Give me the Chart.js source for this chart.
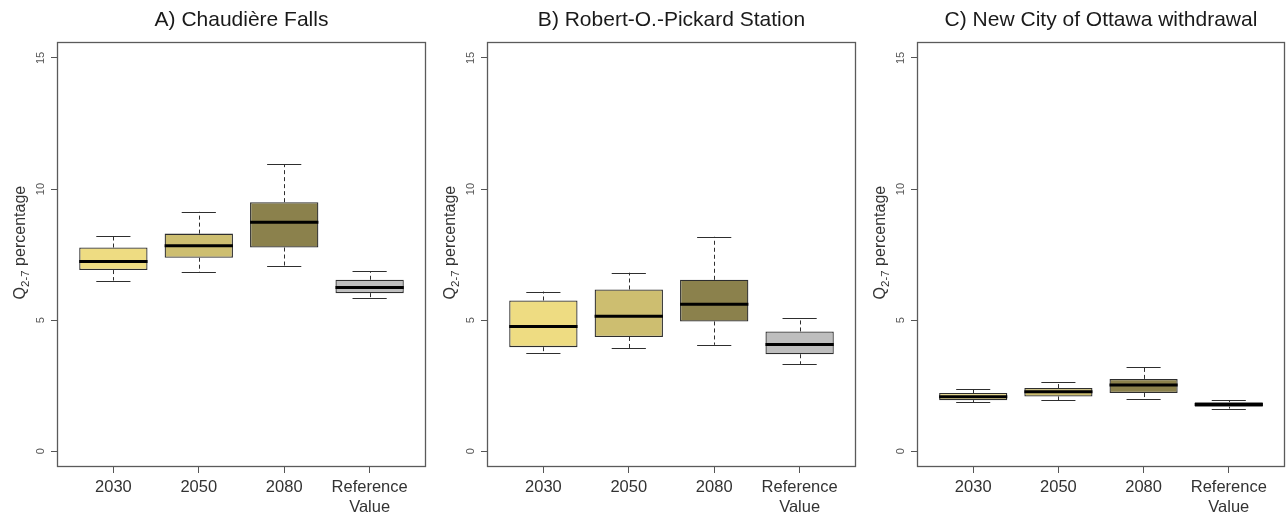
<!DOCTYPE html>
<html>
<head>
<meta charset="utf-8">
<script src="https://cdn.jsdelivr.net/npm/chart.js@4.4.1/dist/chart.umd.min.js"></script>
<style>
  body { margin: 0; background: #fff; }
  #wrap { position: relative; width: 1286px; height: 521px; }
  canvas { position: absolute; top: 0; }
</style>
</head>
<body>
<div id="wrap">
  <canvas id="panel-a" width="430" height="521" style="left:0"></canvas>
  <canvas id="panel-b" width="430" height="521" style="left:430px"></canvas>
  <canvas id="panel-c" width="426" height="521" style="left:860px"></canvas>
</div>
<script>
// box plot stats (Q2-7 percentage)
const xLabels = ['2030', '2050', '2080', ['Reference', 'Value']];
const yTicks = [0, 5, 10, 15];
const panelTitles = ['A) Chaudière Falls', 'B) Robert-O.-Pickard Station', 'C) New City of Ottawa withdrawal'];

const aMin = [6.51, 6.82, 7.06, 5.85];
const aQ1  = [6.91, 7.38, 7.77, 6.03];
const aMed = [7.24, 7.84, 8.73, 6.25];
const aQ3  = [7.77, 8.30, 9.50, 6.54];
const aMax = [8.21, 9.13, 10.95, 6.87];

const bMin = [3.74, 3.92, 4.06, 3.33];
const bQ1  = [3.97, 4.36, 4.95, 3.70];
const bMed = [4.76, 5.15, 5.61, 4.07];
const bQ3  = [5.75, 6.17, 6.54, 4.57];
const bMax = [6.09, 6.81, 8.18, 5.09];

const cMin = [1.86, 1.95, 2.01, 1.63];
const cQ1  = [1.95, 2.09, 2.22, 1.70];
const cMed = [2.08, 2.27, 2.53, 1.78];
const cQ3  = [2.22, 2.41, 2.76, 1.87];
const cMax = [2.37, 2.65, 3.22, 1.95];

const boxColors = ['#EEDC82', '#CDBE70', '#8B814C', '#BEBEBE'];
const FONT = '"Liberation Sans", Arial, sans-serif';

// whiskers, staples, medians, frame and the rotated y texts (R style)
const boxPlotExtras = {
  id: 'boxPlotExtras',
  afterDatasetsDraw(chart) {
    const ctx = chart.ctx;
    const x = chart.scales.x, y = chart.scales.y;
    const ds = chart.data.datasets[0];
    const meta = chart.getDatasetMeta(0);
    ctx.save();
    meta.data.forEach((bar, i) => {
      const cx = x.getPixelForValue(i + 1);
      const half = bar.width / 2;
      const yMin = y.getPixelForValue(ds.mins[i]);
      const yMax = y.getPixelForValue(ds.maxs[i]);
      const yQ1 = y.getPixelForValue(ds.data[i].y[0]);
      const yQ3 = y.getPixelForValue(ds.data[i].y[1]);
      const yMed = y.getPixelForValue(ds.meds[i]);
      const px = Math.round(cx) + 0.5;
      // dashed whiskers
      ctx.strokeStyle = '#2e2e2e';
      ctx.lineWidth = 1;
      ctx.setLineDash([4, 3]);
      ctx.beginPath();
      ctx.moveTo(px, yQ3); ctx.lineTo(px, yMax);
      ctx.moveTo(px, yQ1); ctx.lineTo(px, yMin);
      ctx.stroke();
      // staples
      ctx.setLineDash([]);
      ctx.beginPath();
      ctx.moveTo(cx - half / 2, Math.round(yMax) + 0.5); ctx.lineTo(cx + half / 2, Math.round(yMax) + 0.5);
      ctx.moveTo(cx - half / 2, Math.round(yMin) + 0.5); ctx.lineTo(cx + half / 2, Math.round(yMin) + 0.5);
      ctx.stroke();
      // median
      ctx.strokeStyle = '#000';
      ctx.lineWidth = 3;
      ctx.beginPath();
      ctx.moveTo(cx - half, yMed); ctx.lineTo(cx + half, yMed);
      ctx.stroke();
    });

    // frame
    const a = chart.chartArea;
    ctx.strokeStyle = '#5a5a5a';
    ctx.lineWidth = 1.3;
    ctx.strokeRect(Math.round(a.left) + 0.5, Math.round(a.top) + 0.5,
      Math.round(a.right - a.left) - 1, Math.round(a.bottom - a.top) - 1);

    // y tick labels, parallel to the axis
    ctx.fillStyle = '#555';
    ctx.font = '11px ' + FONT;
    ctx.textAlign = 'center';
    ctx.textBaseline = 'middle';
    yTicks.forEach(v => {
      ctx.save();
      ctx.translate(a.left - 16, y.getPixelForValue(v));
      ctx.rotate(-Math.PI / 2);
      ctx.fillText(String(v), 0, 0);
      ctx.restore();
    });

    // y axis title with subscript
    ctx.save();
    ctx.fillStyle = '#333';
    ctx.textAlign = 'left';
    ctx.textBaseline = 'alphabetic';
    ctx.translate(25, (a.top + a.bottom) / 2 - 12);
    ctx.rotate(-Math.PI / 2);
    const big = '16px ' + FONT, small = '11.5px ' + FONT;
    ctx.font = big;
    const wQ = ctx.measureText('Q').width;
    const wRest = ctx.measureText(' percentage').width;
    ctx.font = small;
    const wSub = ctx.measureText('2-7').width;
    let sx = -(wQ + wSub + wRest) / 2;
    ctx.font = big;
    ctx.fillText('Q', sx, 0);
    sx += wQ;
    ctx.font = small;
    ctx.fillText('2-7', sx, 3.5);
    sx += wSub;
    ctx.font = big;
    ctx.fillText(' percentage', sx, 0);
    ctx.restore();

    ctx.restore();
  }
};

function makePanel(id, title, mins, q1s, meds, q3s, maxs) {
  const ctx = document.getElementById(id).getContext('2d');
  const boxes = q1s.map((q1, i) => ({ x: i + 1, y: [q1, q3s[i]] }));
  return new Chart(ctx, {
    type: 'bar',
    data: {
      datasets: [{
        data: boxes,
        mins: mins,
        meds: meds,
        maxs: maxs,
        backgroundColor: boxColors,
        borderColor: '#2e2e2e',
        borderWidth: 1.3,
        borderSkipped: false,
        categoryPercentage: 1,
        barPercentage: 0.8
      }]
    },
    options: {
      responsive: false,
      animation: false,
      devicePixelRatio: 1,
      layout: { padding: { left: 0, right: id === 'panel-c' ? 1 : 4, top: 0, bottom: 0 } },
      plugins: {
        legend: { display: false },
        tooltip: { enabled: false },
        title: {
          display: true,
          text: title,
          fullSize: false,
          color: '#1a1a1a',
          font: { family: FONT, size: 21, weight: 'normal', lineHeight: 1.2 },
          padding: { top: 8, bottom: 9 }
        }
      },
      scales: {
        x: {
          type: 'linear',
          position: 'bottom',
          min: 0.34,
          max: 4.66,
          offset: false,
          afterBuildTicks: s => { s.ticks = xLabels.map((_, i) => ({ value: i + 1 })); },
          afterFit: s => { s.height = 54; },
          ticks: {
            autoSkip: false,
            maxRotation: 0,
            padding: 5,
            color: '#333',
            font: { family: FONT, size: 16.5, lineHeight: 1.2 },
            callback: v => xLabels[v - 1]
          },
          grid: { drawOnChartArea: false, offset: false, tickLength: 6, color: '#555' },
          border: { display: false }
        },
        y: {
          type: 'linear',
          min: -0.6,
          max: 15.6,
          afterBuildTicks: s => { s.ticks = yTicks.map(v => ({ value: v })); },
          afterFit: s => { s.width = 57; },
          ticks: { display: false },
          grid: { drawOnChartArea: false, tickLength: 6, color: '#555' },
          border: { display: false }
        }
      }
    },
    plugins: [boxPlotExtras]
  });
}

makePanel('panel-a', panelTitles[0], aMin, aQ1, aMed, aQ3, aMax);
makePanel('panel-b', panelTitles[1], bMin, bQ1, bMed, bQ3, bMax);
makePanel('panel-c', panelTitles[2], cMin, cQ1, cMed, cQ3, cMax);
</script>
</body>
</html>
